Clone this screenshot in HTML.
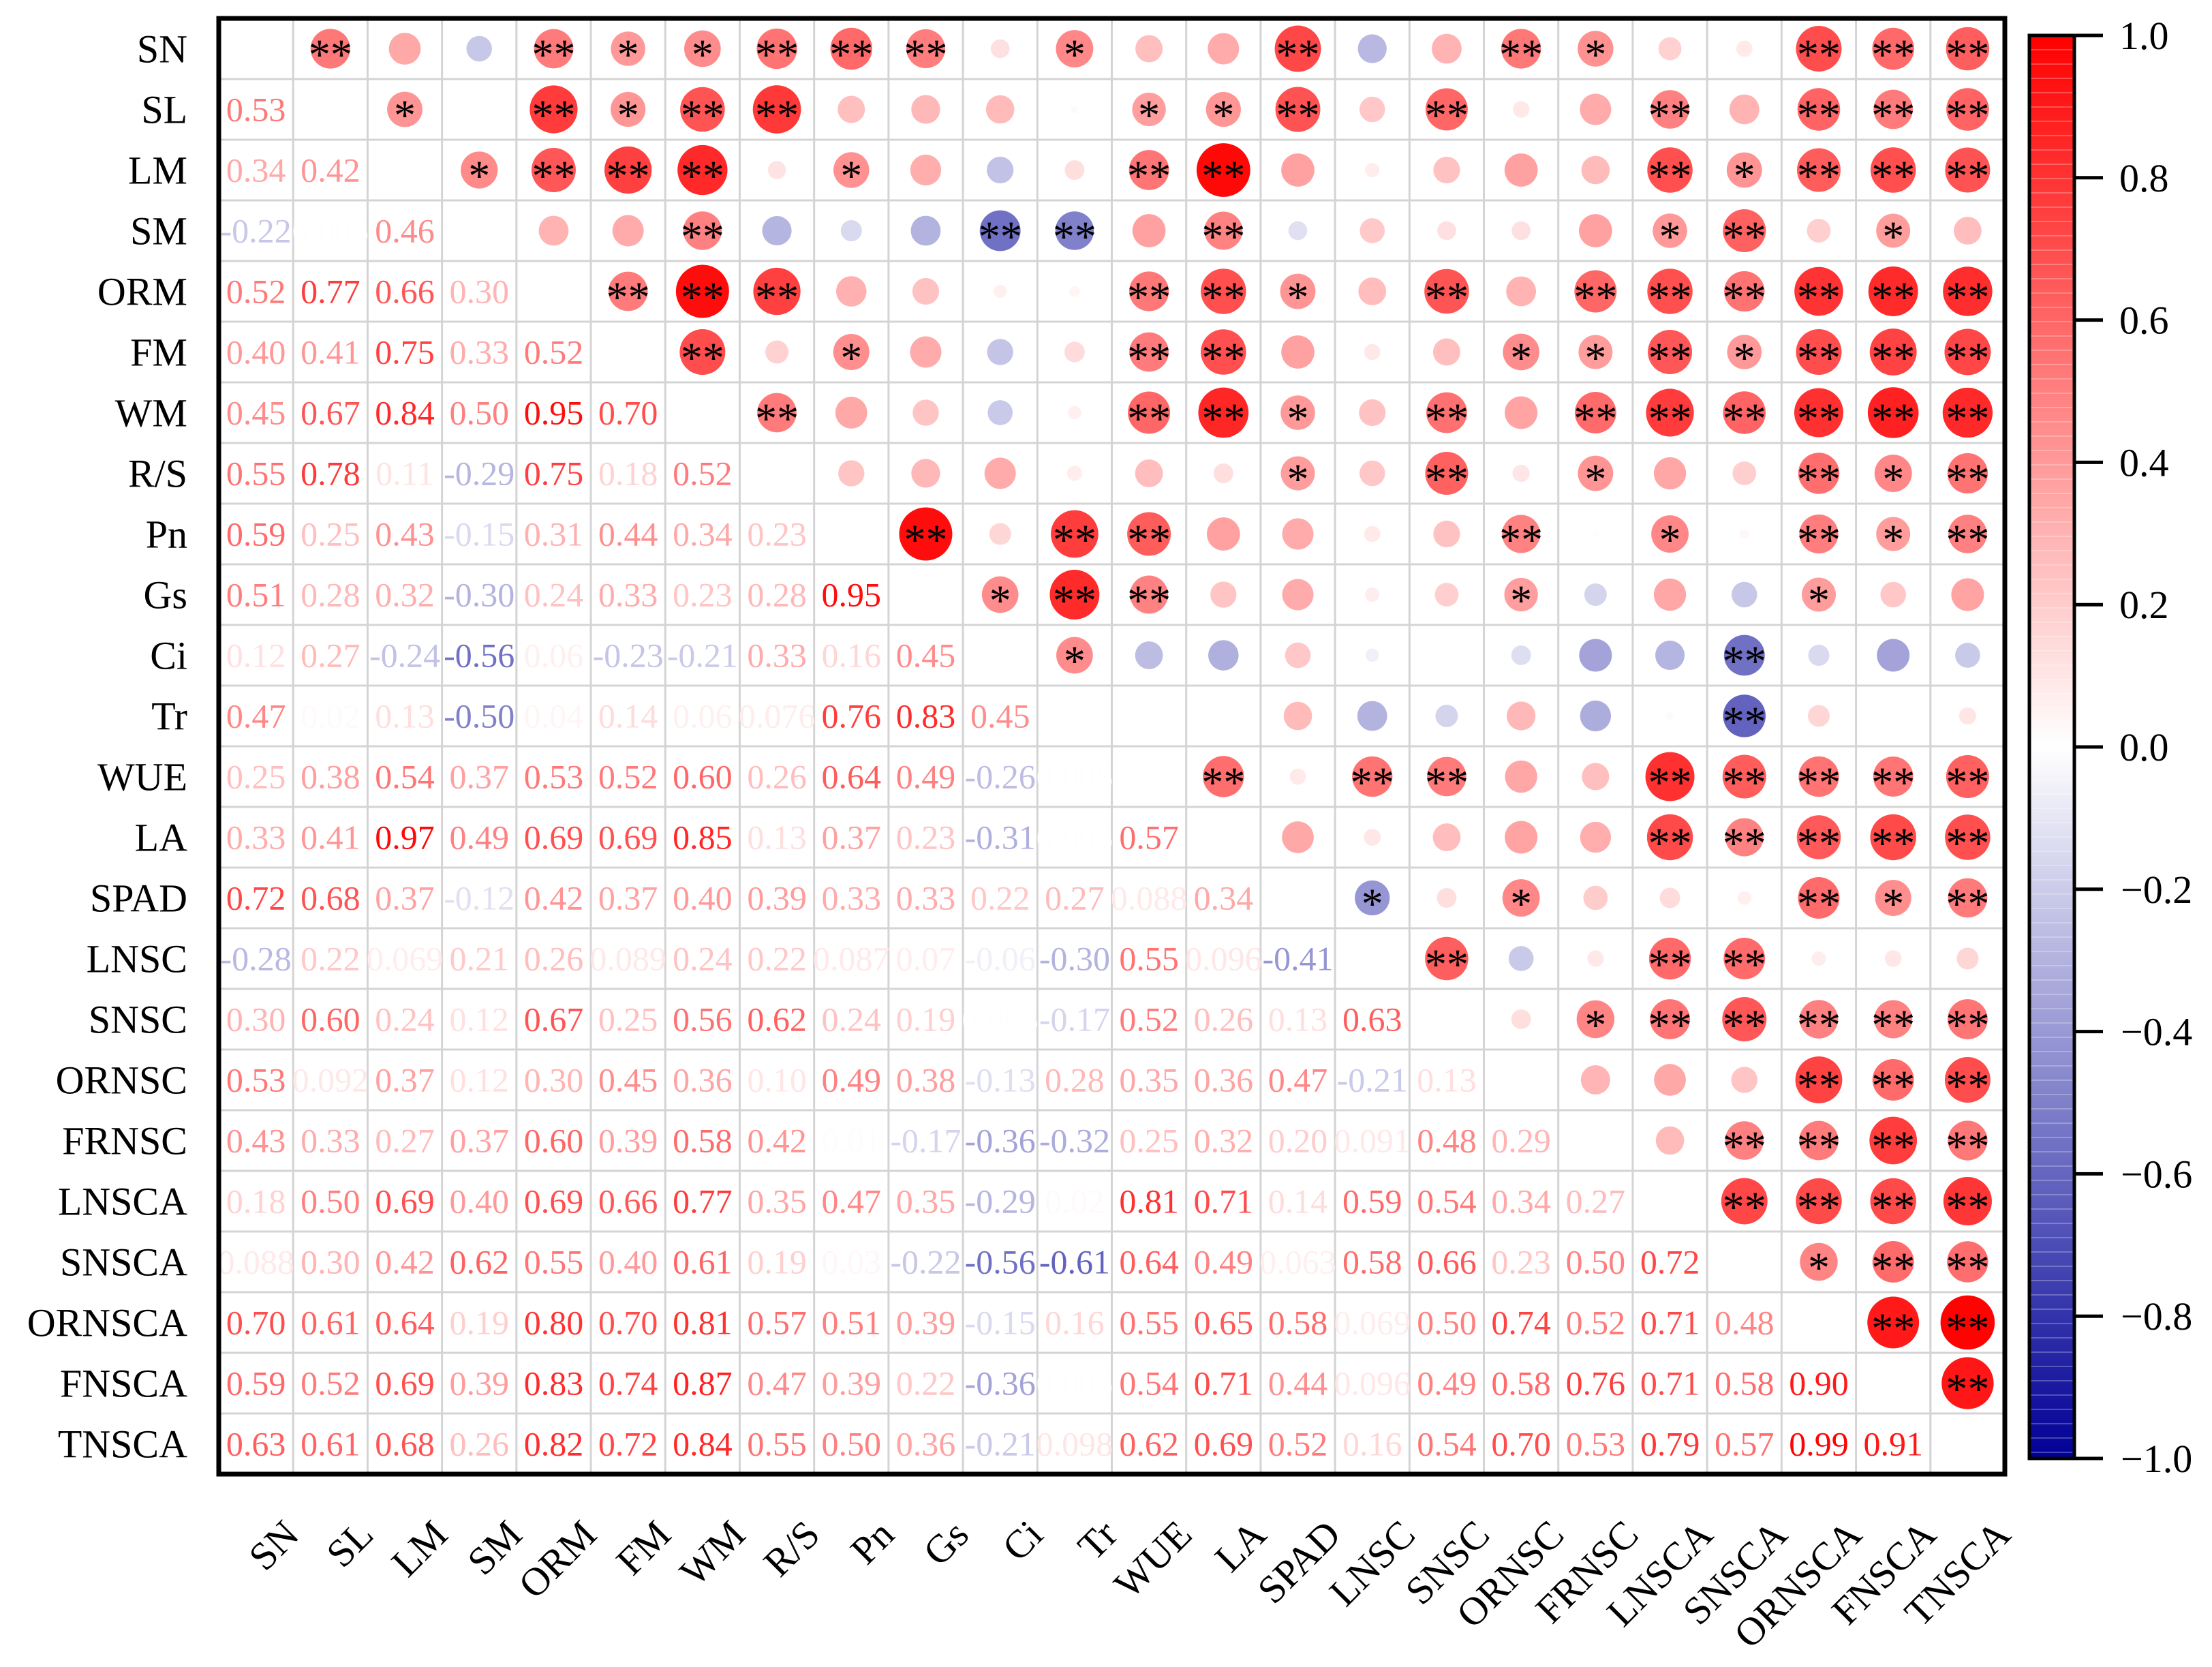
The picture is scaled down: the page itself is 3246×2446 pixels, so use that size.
<!DOCTYPE html>
<html><head><meta charset="utf-8"><style>
html,body{margin:0;padding:0;background:#fff;}
svg{display:block;font-family:"Liberation Serif",serif;}
</style></head><body>
<svg id="chart" width="3246" height="2446" viewBox="0 0 3246 2446" xmlns="http://www.w3.org/2000/svg">
<defs>
<linearGradient id="cbgrad" x1="0" y1="0" x2="0" y2="1">
<stop offset="0" stop-color="rgb(255,0,0)"/>
<stop offset="0.5" stop-color="rgb(255,255,255)"/>
<stop offset="1" stop-color="rgb(0,0,150)"/>
</linearGradient>
</defs>
<g id="cells"></g>
<g id="labels"></g>
<g id="colorbar"></g>
</svg>
<script>
const variables = ["SN","SL","LM","SM","ORM","FM","WM","R/S","Pn","Gs","Ci","Tr","WUE","LA","SPAD","LNSC","SNSC","ORNSC","FRNSC","LNSCA","SNSCA","ORNSCA","FNSCA","TNSCA"];
const lowerValues = [
[],
[0.53],
[0.34,0.42],
[-0.22,0.005,0.46],
[0.52,0.77,0.66,0.30],
[0.40,0.41,0.75,0.33,0.52],
[0.45,0.67,0.84,0.50,0.95,0.70],
[0.55,0.78,0.11,-0.29,0.75,0.18,0.52],
[0.59,0.25,0.43,-0.15,0.31,0.44,0.34,0.23],
[0.51,0.28,0.32,-0.30,0.24,0.33,0.23,0.28,0.95],
[0.12,0.27,-0.24,-0.56,0.06,-0.23,-0.21,0.33,0.16,0.45],
[0.47,0.02,0.13,-0.50,0.04,0.14,0.06,0.076,0.76,0.83,0.45],
[0.25,0.38,0.54,0.37,0.53,0.52,0.60,0.26,0.64,0.49,-0.26,0.005],
[0.33,0.41,0.97,0.49,0.69,0.69,0.85,0.13,0.37,0.23,-0.31,0.005,0.57],
[0.72,0.68,0.37,-0.12,0.42,0.37,0.40,0.39,0.33,0.33,0.22,0.27,0.088,0.34],
[-0.28,0.22,0.069,0.21,0.26,0.089,0.24,0.22,0.087,0.07,-0.06,-0.30,0.55,0.096,-0.41],
[0.30,0.60,0.24,0.12,0.67,0.25,0.56,0.62,0.24,0.19,0.005,-0.17,0.52,0.26,0.13,0.63],
[0.53,0.092,0.37,0.12,0.30,0.45,0.36,0.10,0.49,0.38,-0.13,0.28,0.35,0.36,0.47,-0.21,0.13],
[0.43,0.33,0.27,0.37,0.60,0.39,0.58,0.42,0.01,-0.17,-0.36,-0.32,0.25,0.32,0.20,0.091,0.48,0.29],
[0.18,0.50,0.69,0.40,0.69,0.66,0.77,0.35,0.47,0.35,-0.29,0.02,0.81,0.71,0.14,0.59,0.54,0.34,0.27],
[0.088,0.30,0.42,0.62,0.55,0.40,0.61,0.19,0.03,-0.22,-0.56,-0.61,0.64,0.49,0.063,0.58,0.66,0.23,0.50,0.72],
[0.70,0.61,0.64,0.19,0.80,0.70,0.81,0.57,0.51,0.39,-0.15,0.16,0.55,0.65,0.58,0.069,0.50,0.74,0.52,0.71,0.48],
[0.59,0.52,0.69,0.39,0.83,0.74,0.87,0.47,0.39,0.22,-0.36,0.005,0.54,0.71,0.44,0.096,0.49,0.58,0.76,0.71,0.58,0.90],
[0.63,0.61,0.68,0.26,0.82,0.72,0.84,0.55,0.50,0.36,-0.21,0.098,0.62,0.69,0.52,0.16,0.54,0.70,0.53,0.79,0.57,0.99,0.91]
];
// significance per upper-triangle row (columns i+1..end): 2 = **, 1 = *, 0 = none
const significance = [
"20021122201002002100222",
"1021220000112020020222",
"122201000220000021222",
"00200022020000012010",
"2220000221020222222",
"201000220001121222",
"20000221020222222",
"0000001020100212",
"202200002010212",
"12200001000100",
"1000000002000",
"000000002000",
"20220022222",
"0000022222",
"101000212",
"20022000",
"0122222",
"000222",
"02222",
"2222",
"122",
"22",
"2"
];
const cbTicks = [1.0,0.8,0.6,0.4,0.2,0.0,-0.2,-0.4,-0.6,-0.8,-1.0];

const NS="http://www.w3.org/2000/svg";
const X0=321, X1=2942, Y0=27, Y1=2163, N=variables.length;
const CW=(X1-X0)/N, CH=(Y1-Y0)/N;
function cx(j){return X0+CW*(j+0.5);}
function cy(i){return Y0+CH*(i+0.5);}
function color(v){
  const t=Math.min(1,Math.abs(v));
  if(v>=0){const g=Math.round(255*(1-t));return `rgb(255,${g},${g})`;}
  const g=Math.round(255*(1-t));return `rgb(${g},${g},${Math.round(255-105*t)})`;
}
function radius(v){return 40*Math.sqrt(Math.min(1,Math.abs(v)));}
function fmt(v){
  if(Math.abs(v)<0.01) return v.toFixed(3);
  let s=Math.abs(v)<0.1&&Math.abs(v*100-Math.round(v*100))>0.01? Math.abs(v).toFixed(3): Math.abs(v).toFixed(2);
  return (v<0?"-":"")+s;
}
function mk(tag,attrs,parent){const e=document.createElementNS(NS,tag);for(const k in attrs)e.setAttribute(k,attrs[k]);parent.appendChild(e);return e;}
function val(i,j){return i>j?lowerValues[i][j]:lowerValues[j][i];}

const cells=document.getElementById('cells');
const bg=mk('rect',{x:X0,y:Y0,width:X1-X0,height:Y1-Y0,fill:'#fff'},cells);


for(let k=1;k<N;k++){
  const v=mk('line',{x1:X0+CW*k,x2:X0+CW*k,y1:Y0,y2:Y1,stroke:'#d4d4d4','stroke-width':3},cells);
  
  
  const h=mk('line',{x1:X0,x2:X1,y1:Y0+CH*k,y2:Y0+CH*k,stroke:'#d4d4d4','stroke-width':3},cells);
  
  
}
for(let i=0;i<N;i++){
  for(let j=0;j<N;j++){
    if(i===j) continue;
    const v=val(i,j);
    if(i>j){
      const t=mk('text',{x:cx(j),y:cy(i)+17,'text-anchor':'middle','font-size':50,fill:color(v)},cells);
      t.textContent=fmt(v);
      
      
    } else {
      const c=mk('circle',{cx:cx(j),cy:cy(i),r:radius(v),fill:color(v)},cells);
      
      
      const s=significance[i][j-i-1];
      if(s==='1'||s==='2'){
        const st=mk('text',{x:cx(j),y:cy(i)+30,'text-anchor':'middle','font-size':64,fill:'#000'},cells);
        st.textContent=s==='2'?'**':'*';
        
        
      }
    }
  }
}
const border=mk('rect',{x:X0,y:Y0,width:X1-X0,height:Y1-Y0,fill:'none',stroke:'#000','stroke-width':7},cells);



const labels=document.getElementById('labels');
for(let i=0;i<N;i++){
  const t=mk('text',{x:275,y:cy(i)+20,'text-anchor':'end','font-size':58,fill:'#000'},labels);
  t.textContent=variables[i];
  
  
  const bx=cx(i)+66, by=Y1+92;
  const b=mk('text',{x:bx,y:by,'text-anchor':'end','font-size':58,fill:'#000',transform:`rotate(-45 ${bx} ${by})`},labels);
  b.textContent=variables[i];
  
  
}

const cb=document.getElementById('colorbar');
const CBX0=2978, CBX1=3044, CBY0=52, CBY1=2140;
const bar=mk('rect',{x:CBX0,y:CBY0,width:CBX1-CBX0,height:CBY1-CBY0,fill:'url(#cbgrad)'},cb);


for(let y=CBY0+21;y<CBY1;y+=21){
  const l=mk('line',{x1:CBX0,x2:CBX1,y1:y,y2:y,stroke:'rgba(255,255,255,0.25)','stroke-width':2},cb);
  
  
}
const cbb=mk('rect',{x:CBX0,y:CBY0,width:CBX1-CBX0,height:CBY1-CBY0,fill:'none',stroke:'#000','stroke-width':5},cb);


function cbY(v){return CBY0+(1-v)/2*(CBY1-CBY0);}
for(const v of cbTicks){
  const y=cbY(v);
  const tk=mk('line',{x1:CBX1,x2:3086,y1:y,y2:y,stroke:'#000','stroke-width':5},cb);
  
  
  const t=mk('text',{x:v<0?3112:3110,y:y+20,'font-size':58,fill:'#000'},cb);
  t.textContent=(v<0?"\u2212":"")+Math.abs(v).toFixed(1);
  
  
}
</script>
</body></html>
